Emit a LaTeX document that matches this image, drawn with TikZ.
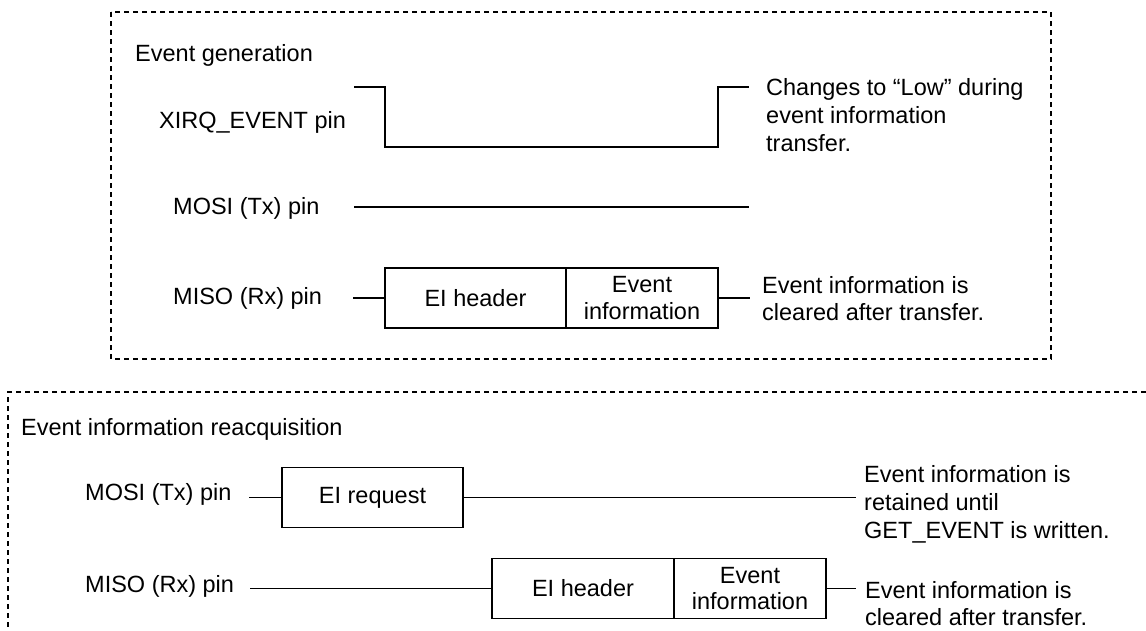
\documentclass[tikz,border=0pt]{standalone}
\usepackage{fontspec}
\setmainfont{Liberation Sans}
\tikzset{
  txt/.style={inner sep=0pt, font=\fontsize{23.5}{28}\selectfont},
  note/.style={txt, anchor=north west, align=left},
  field/.style={draw, line width=1.4pt, minimum height=60pt, inner sep=0pt, align=center,
    font=\fontsize{23.5}{26.5}\selectfont},
  frame/.style={dashed, dash pattern=on 5pt off 4pt, line width=1.1pt},
  sig/.style={line width=1.4pt}
}
\begin{document}
\begin{tikzpicture}[x=1pt, y=-1pt]
\useasboundingbox (0,0) rectangle (1146,630);
\draw[frame] (111,12) rectangle (1051,359);
\draw[frame] (1146,392) -- (8,392) -- (8,630);
\node[txt, anchor=base west] (gen) at (135,61.5) {Event generation};
\node[txt, anchor=base west] (xirq) at (159,128.5) {XIRQ\_EVENT pin};
\node[txt, anchor=base west] (mosiA) at (173,214) {MOSI (Tx) pin};
\node[txt, anchor=base west] (misoA) at (173,304) {MISO (Rx) pin};
\draw[sig] (354,87) -| (385,147) -| (718,87) -- (749,87);
\node[note] (lownote) at (766,78) {Changes to “Low” during\\event information\\transfer.};
\draw[sig] (354,207) -- (749,207);
\node[field, minimum width=181pt] (hdrA) at (475.5,298) {EI header};
\node[field, minimum width=152pt] (infA) at (642,298) {Event\\information};
\draw[sig] (hdrA.west) -- ++(-31,0);
\draw[sig] (infA.east) -- ++(31,0);
\node[note, font=\fontsize{23.5}{27}\selectfont] (clrA) at (762,276) {Event information is\\cleared after transfer.};
\node[txt, anchor=base west] (reacq) at (21,435) {Event information reacquisition};
\node[txt, anchor=base west] (mosiB) at (85,500) {MOSI (Tx) pin};
\node[txt, anchor=base west] (misoB) at (85,592) {MISO (Rx) pin};
\node[field, minimum width=181pt] (req) at (372.5,497.5) {EI request};
\coordinate (reqend) at (856,497.5);
\draw[sig] (req.west) -- ++(-32,0);
\draw[sig] (req.east) -- (reqend);
\node[note] (keep) at (864,465) {Event information is\\retained until\\GET\_EVENT is written.};
\node[field, minimum width=182pt] (hdrB) at (583,588.5) {EI header};
\node[field, minimum width=152pt] (infB) at (750,588.5) {Event\\information};
\coordinate (misoBend) at (250,588.5);
\draw[sig] (misoBend) -- (hdrB.west);
\draw[sig] (infB.east) -- ++(29,0);
\node[note, font=\fontsize{23.5}{27}\selectfont] (clrB) at (865,581) {Event information is\\cleared after transfer.};
\end{tikzpicture}
\end{document}
